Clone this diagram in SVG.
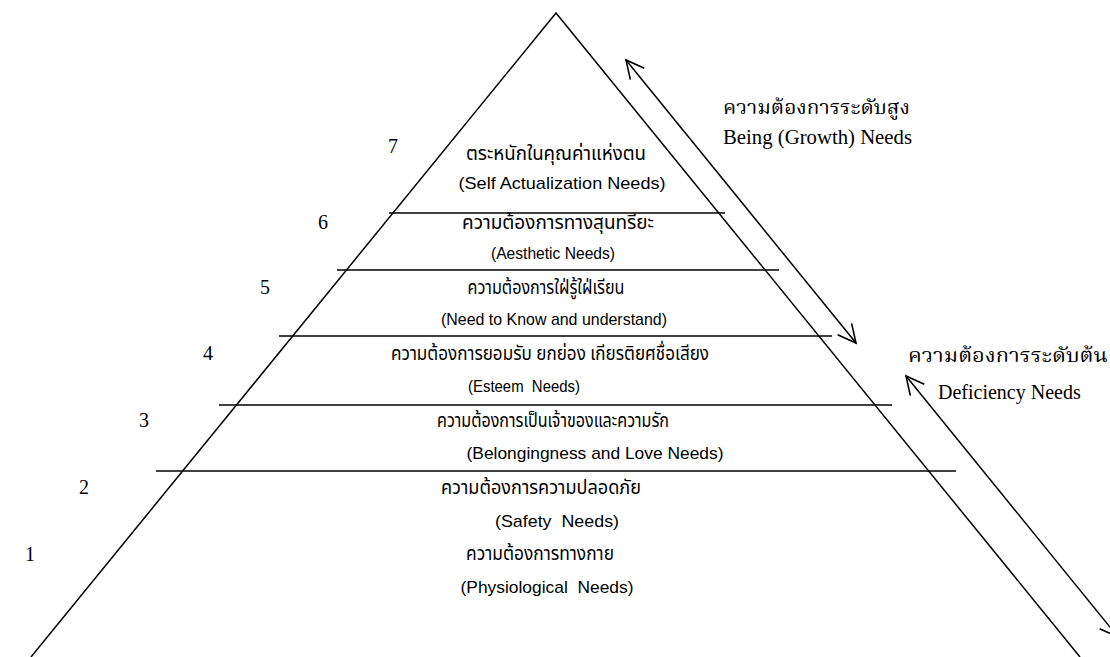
<svg xmlns="http://www.w3.org/2000/svg" width="1110" height="657" viewBox="0 0 1110 657">
<defs>
<style>
.ln{stroke:#000;stroke-width:1.5;fill:none}
.th{font-family:"Noto Sans Thai","Noto Sans","DejaVu Sans",sans-serif;font-size:19px;fill:#000}
.thr{font-family:"Noto Serif Thai","Noto Sans Thai","Liberation Serif",serif;font-size:20px;fill:#000}
.en{font-family:"Liberation Sans",Arial,sans-serif;font-size:17px;fill:#000;white-space:pre}
.tm{font-family:"Liberation Serif","Times New Roman",serif;font-size:20px;fill:#000}
</style>
<marker id="ah" markerUnits="userSpaceOnUse" markerWidth="30" markerHeight="30" refX="20" refY="10" orient="auto-start-reverse" viewBox="0 0 30 20" overflow="visible">
<path d="M2,1 L20,10 L2,19" fill="none" stroke="#000" stroke-width="1.6"/>
</marker>
</defs>
<rect width="1110" height="657" fill="#fff"/>
<g id="pyramid">
<polyline class="ln" points="31,657 556,13 1080,657"/>
<line class="ln" x1="389" y1="213" x2="725" y2="213"/>
<line class="ln" x1="337" y1="270" x2="779" y2="270"/>
<line class="ln" x1="279" y1="336" x2="832" y2="336"/>
<line class="ln" x1="219" y1="405" x2="892" y2="405"/>
<line class="ln" x1="156" y1="471" x2="956" y2="471"/>
</g>
<g id="connectors">
<line class="ln" x1="626" y1="60" x2="856" y2="343" marker-start="url(#ah)" marker-end="url(#ah)"/>
<line class="ln" x1="906" y1="376" x2="1118" y2="637" marker-start="url(#ah)" marker-end="url(#ah)"/>
</g>
<g id="level7">
<text class="tm" x="388" y="153">7</text>
<text class="th" x="556" y="160" text-anchor="middle" textLength="180" lengthAdjust="spacingAndGlyphs">ตระหนักในคุณค่าแห่งตน</text>
<text class="en" x="562" y="189" text-anchor="middle" textLength="207" lengthAdjust="spacingAndGlyphs">(Self Actualization Needs)</text>
</g>
<g id="level6">
<text class="tm" x="318" y="229">6</text>
<text class="th" x="558" y="229" text-anchor="middle" textLength="192" lengthAdjust="spacingAndGlyphs">ความต้องการทางสุนทรียะ</text>
<text class="en" x="553" y="259" text-anchor="middle" textLength="124" lengthAdjust="spacingAndGlyphs">(Aesthetic Needs)</text>
</g>
<g id="level5">
<text class="tm" x="260" y="294">5</text>
<text class="th" x="546" y="294" text-anchor="middle" textLength="157" lengthAdjust="spacingAndGlyphs">ความต้องการใฝ่รู้ใฝ่เรียน</text>
<text class="en" x="554" y="325" text-anchor="middle" textLength="226" lengthAdjust="spacingAndGlyphs">(Need to Know and understand)</text>
</g>
<g id="level4">
<text class="tm" x="203" y="360">4</text>
<text class="th" x="550" y="360" text-anchor="middle" textLength="318" lengthAdjust="spacingAndGlyphs">ความต้องการยอมรับ ยกย่อง เกียรติยศชื่อเสียง</text>
<text class="en" x="524" y="392" text-anchor="middle" textLength="112" lengthAdjust="spacingAndGlyphs" xml:space="preserve">(Esteem  Needs)</text>
</g>
<g id="level3">
<text class="tm" x="139" y="427">3</text>
<text class="th" x="553" y="427" text-anchor="middle" textLength="232" lengthAdjust="spacingAndGlyphs">ความต้องการเป็นเจ้าของและความรัก</text>
<text class="en" x="595" y="459" text-anchor="middle" textLength="257" lengthAdjust="spacingAndGlyphs">(Belongingness and Love Needs)</text>
</g>
<g id="level2">
<text class="tm" x="79" y="494">2</text>
<text class="th" x="541" y="494" text-anchor="middle" textLength="200" lengthAdjust="spacingAndGlyphs">ความต้องการความปลอดภัย</text>
<text class="en" x="557" y="527" text-anchor="middle" textLength="124" lengthAdjust="spacingAndGlyphs" xml:space="preserve">(Safety  Needs)</text>
</g>
<g id="level1">
<text class="tm" x="25" y="561">1</text>
<text class="th" x="540" y="560" text-anchor="middle" textLength="148" lengthAdjust="spacingAndGlyphs">ความต้องการทางกาย</text>
<text class="en" x="547" y="593" text-anchor="middle" textLength="173" lengthAdjust="spacingAndGlyphs" xml:space="preserve">(Physiological  Needs)</text>
</g>
<g id="growth">
<text class="thr" x="723" y="114" textLength="187" lengthAdjust="spacingAndGlyphs">ความต้องการระดับสูง</text>
<text class="tm" x="723" y="144" textLength="189" lengthAdjust="spacingAndGlyphs">Being (Growth) Needs</text>
</g>
<g id="deficiency">
<text class="thr" x="908" y="362" textLength="200" lengthAdjust="spacingAndGlyphs">ความต้องการระดับต้น</text>
<text class="tm" x="938" y="399">Deficiency Needs</text>
</g>
</svg>
